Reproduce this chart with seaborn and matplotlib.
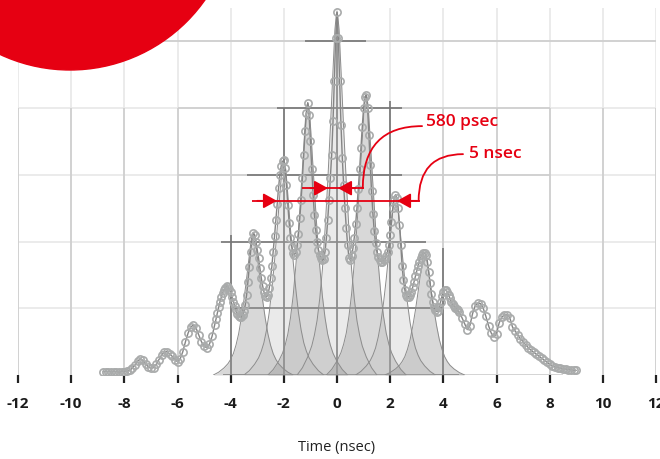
import numpy as np
import matplotlib
matplotlib.use("Agg")
import seaborn as sns
from matplotlib import pyplot as plt
from matplotlib.patches import Ellipse

RED = "#E60012"

t_left0, dt_left = -8.8, 0.1
y_left = [
    0.05, 0.05, 0.05, 0.05, 0.05, 0.05, 0.04, 0.05, 0.05, 0.06,
    0.07, 0.10, 0.15, 0.21, 0.24, 0.22, 0.17, 0.12, 0.10, 0.11,
    0.16, 0.23, 0.30, 0.34, 0.35, 0.32, 0.28, 0.23, 0.20, 0.24,
    0.35, 0.50, 0.63, 0.72, 0.75, 0.70, 0.60, 0.50, 0.43, 0.41,
    0.46, 0.58, 0.75,
]
t_mid0, dt_mid = -4.55, 0.05
y_mid = [
    0.84, 0.93, 1.02, 1.10, 1.17, 1.23, 1.28, 1.31, 1.33, 1.32,
    1.29, 1.24, 1.17, 1.10, 1.03, 0.97, 0.92, 0.89, 0.87, 0.87,
    0.90, 0.96, 1.05, 1.20, 1.40, 1.62, 1.85, 2.02, 2.13, 2.10,
    2.00, 1.88, 1.75, 1.60, 1.46, 1.34, 1.25, 1.19, 1.17, 1.20,
    1.30, 1.45, 1.63, 1.85, 2.08, 2.32, 2.57, 2.80, 3.00, 3.13,
    3.20, 3.22, 3.10, 2.85, 2.55, 2.28, 2.06, 1.92, 1.83, 1.80,
    1.84, 1.95, 2.12, 2.35, 2.62, 2.95, 3.30, 3.65, 3.92, 4.08,
    3.90, 3.50, 3.08, 2.70, 2.40, 2.17, 2.00, 1.88, 1.80, 1.75,
    1.72, 1.74, 1.85, 2.05, 2.32, 2.62, 2.95, 3.30, 3.80, 4.40,
    5.05, 5.44, 5.05, 4.40, 3.75, 3.25, 2.85, 2.50, 2.20, 1.95,
    1.75, 1.72, 1.78, 1.90, 2.06, 2.26, 2.50, 2.78, 3.08, 3.40,
    3.72, 4.00, 4.17, 4.20, 4.00, 3.60, 3.15, 2.75, 2.42, 2.16,
    1.98, 1.85, 1.77, 1.72, 1.70, 1.70, 1.72, 1.74, 1.78, 1.85,
    1.95, 2.10, 2.30, 2.50, 2.63, 2.70, 2.66, 2.50, 2.25, 1.95,
    1.63, 1.42, 1.28, 1.20, 1.17, 1.17, 1.20, 1.25, 1.32, 1.40,
    1.48, 1.56, 1.63, 1.70, 1.76, 1.80, 1.83, 1.83, 1.80, 1.70,
    1.55, 1.38, 1.22, 1.10, 1.02, 0.97, 0.95, 0.96, 1.02, 1.10,
    1.18, 1.24, 1.27, 1.27, 1.24, 1.20, 1.15, 1.10, 1.06, 1.03,
    1.01, 0.99, 0.97,
]
t_right0, dt_right = 4.6, 0.1
y_right = [
    0.94, 0.86, 0.77, 0.68, 0.74, 0.92, 1.04, 1.08, 1.07, 1.00,
    0.88, 0.74, 0.63, 0.57, 0.62, 0.78, 0.87, 0.90, 0.90, 0.86,
    0.72, 0.66, 0.60, 0.54, 0.50, 0.45, 0.41, 0.37, 0.34, 0.31,
    0.28, 0.25, 0.22, 0.19, 0.16, 0.14, 0.12, 0.11, 0.10, 0.09,
    0.09, 0.08, 0.08, 0.07, 0.07,
]

# individual pulses (shaded)
pulse_centers = [-3.15, -2.0, -1.1, 0.0, 1.1, 2.2, 3.3]
pulse_heights = [2.13, 3.22, 4.08, 5.44, 4.2, 2.7, 1.83]
pulse_offsets = [-1.5, -1.3, -1.1, -0.95, -0.85, -0.75, -0.65, -0.55, -0.45, -0.35, -0.25, -0.15, -0.08, -0.03,
                 0.0, 0.03, 0.08, 0.15, 0.25, 0.35, 0.45, 0.55, 0.65, 0.75, 0.85, 0.95, 1.1, 1.3, 1.5]
pulse_profile = [0.0, 0.02, 0.05, 0.08, 0.11, 0.15, 0.21, 0.29, 0.40, 0.53, 0.68, 0.84, 0.95, 0.99,
                 1.0, 0.99, 0.95, 0.84, 0.68, 0.53, 0.40, 0.29, 0.21, 0.15, 0.11, 0.08, 0.05, 0.02, 0.0]

xticks = list(range(-12, 13, 2))

t = np.concatenate([
    t_left0 + dt_left * np.arange(len(y_left)),
    t_mid0 + dt_mid * np.arange(len(y_mid)),
    t_right0 + dt_right * np.arange(len(y_right)),
])
y = np.array(y_left + y_mid + y_right)

sns.set_theme(style="white")
plt.rcParams["font.family"] = ["Open Sans", "DejaVu Sans"]
plt.rcParams["axes.unicode_minus"] = False

fig, ax = plt.subplots(figsize=(6.6, 4.59), dpi=100)
fig.subplots_adjust(left=18 / 660, right=656 / 660, bottom=84 / 459, top=451 / 459)
ax.set_xlim(-12, 12)
ax.set_ylim(0, 5.5)

# grid with darker parts in the middle
LIGHT, MID, DARK = "#e8e8e8", "#cdcdcd", "#767676"
for gx in xticks:
    ax.vlines(gx, 0, 5.5, color=LIGHT, lw=1.2, zorder=0)
    ax.vlines(gx, 0, 4.0, color=MID, lw=1.2, zorder=0.5)
for gx, top in [(-4, 2.1), (-2, 4.0), (0, 5.3), (2, 4.1), (4, 1.9)]:
    ax.vlines(gx, 0, top, color=DARK, lw=1.2, zorder=1)
for gy in [1, 2, 3, 4, 5]:
    ax.hlines(gy, -12, 12, color=LIGHT, lw=1.2, zorder=0)
for gy, a, b in [(5, -10.7, 12), (4, -6, 8), (3, -6, 8)]:
    ax.hlines(gy, a, b, color=MID, lw=1.2, zorder=0.5)
for gy, a, b in [(5, -1.2, 1.1), (4, -2.26, 2.45), (3, -3.4, 2.45), (2, -4.37, 3.36), (1, -4.0, 4.0), (0, -4.3, 4.6)]:
    ax.hlines(gy, a, b, color=DARK, lw=1.2, zorder=1)
ax.hlines(0, 4.6, 8.5, color=MID, lw=1.2, zorder=0.5)

# shaded pulses
offs = np.array(pulse_offsets)
prof = np.array(pulse_profile)
for i, (c, h) in enumerate(zip(pulse_centers, pulse_heights)):
    fc, alpha = ("#9a9a9a", 0.38) if i % 2 == 0 else ("#bcbcbc", 0.3)
    ax.fill_between(c + offs, 0, h * prof, color=fc, alpha=alpha, lw=0, zorder=2)
    ax.plot(c + offs, h * prof, color="#8c8c8c", lw=0.7, zorder=2.1)

# measured waveform
sns.lineplot(x=t, y=y, ax=ax, color="#858585", lw=1.0, marker="o", markersize=5.2,
             markerfacecolor="none", markeredgecolor="#a9abab", markeredgewidth=1.2,
             zorder=3)

# annotations
ax.hlines(2.80, -1.32, 1.0, color=RED, lw=1.3, zorder=4)
ax.hlines(2.61, -3.2, 3.12, color=RED, lw=1.3, zorder=4)
head = dict(arrowstyle="-|>,head_length=0.45,head_width=0.25", color=RED, lw=1.3,
            mutation_scale=18, shrinkA=0, shrinkB=0)
for tip, tail, yy in [(-0.34, -1.0, 2.80), (0.04, 0.7, 2.80), (-2.26, -3.0, 2.61), (2.26, 3.0, 2.61)]:
    ax.annotate("", xy=(tip, yy), xytext=(tail, yy), arrowprops=head, zorder=4)

curve = dict(arrowstyle="-", color=RED, lw=1.3, shrinkA=0, shrinkB=0)
ax.annotate("", xy=(0.97, 2.80), xytext=(3.2, 3.73),
            arrowprops=dict(curve, connectionstyle="angle3,angleA=0,angleB=90"), zorder=4)
ax.annotate("", xy=(3.07, 2.61), xytext=(4.74, 3.31),
            arrowprops=dict(curve, connectionstyle="angle3,angleA=0,angleB=90"), zorder=4)
ax.text(3.35, 3.79, "580 psec", color=RED, fontsize=12.5, fontweight="semibold",
        ha="left", va="center", zorder=4)
ax.text(4.95, 3.31, "5 nsec", color=RED, fontsize=12.5, fontweight="semibold",
        ha="left", va="center", zorder=4)

# axes styling
sns.despine(ax=ax, left=True, bottom=True, top=True, right=True)
ax.set_yticks([])
ax.set_xticks(xticks)
ax.set_xticklabels([str(v) for v in xticks])
ax.tick_params(axis="x", bottom=True, length=6, width=1.6, color="#222222", pad=10,
               labelsize=11, labelcolor="#1b1b1b")
for lab in ax.get_xticklabels():
    lab.set_fontweight("bold")
ax.set_ylabel("")
ax.set_xlabel("Time (nsec)", fontsize=10.5, color="#222222", labelpad=21)

# red badge in the corner
fig.add_artist(Ellipse((70 / 660, 554 / 459), 330 / 660, 330 / 459,
                       transform=fig.transFigure, color=RED, zorder=10))

fig.savefig("out.png", dpi=100)
